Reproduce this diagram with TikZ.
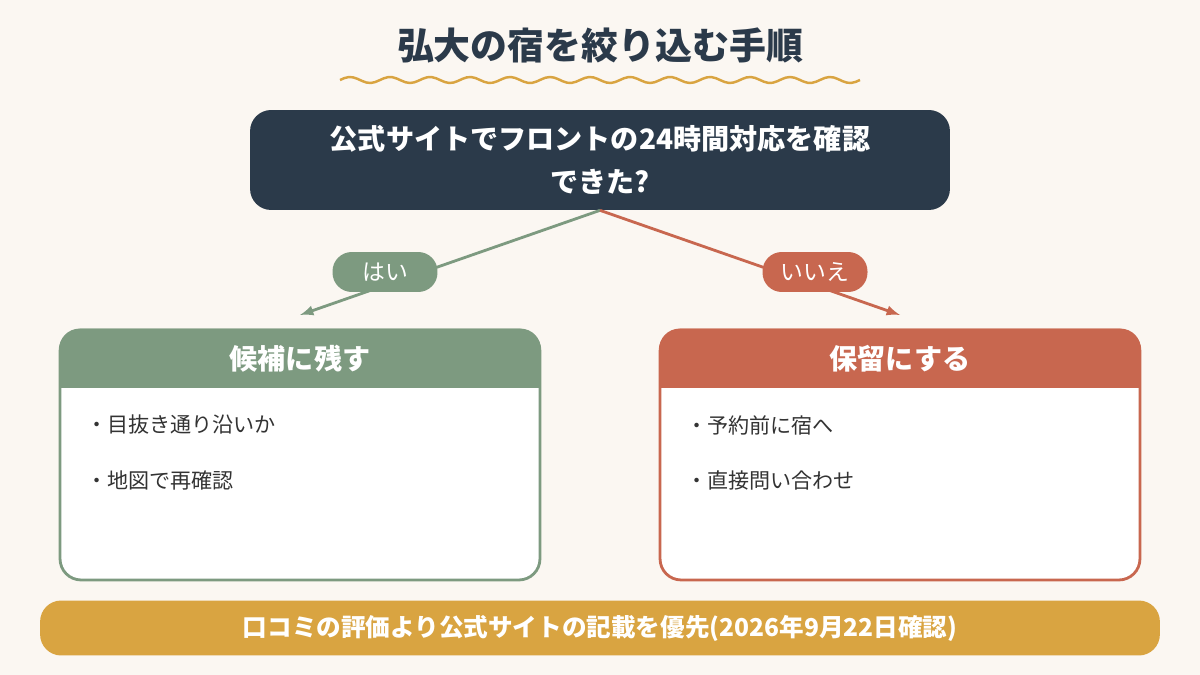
\documentclass[tikz,border=0pt]{standalone}
\usepackage{fontspec}
\setmainfont{Noto Sans CJK JP}
\usetikzlibrary{positioning}
\definecolor{bgcol}{HTML}{FBF7F2}
\definecolor{navy}{HTML}{2B3A4A}
\definecolor{sage}{HTML}{7D9A80}
\definecolor{brick}{HTML}{C8674F}
\definecolor{gold}{HTML}{D9A441}
\definecolor{ink}{HTML}{333333}
\begin{document}
\begin{tikzpicture}[x=0.02cm, y=-0.02cm,
    card/.style={rectangle, draw=#1, line width=1.6pt, fill=white, rounded corners=12, minimum width=9.6cm, minimum height=5cm},
    pill/.style={rectangle, fill=#1, rounded corners=11, text=white, font=\fontsize{13}{15}\selectfont, minimum width=2.1cm, minimum height=0.8cm},
    bullet/.style={anchor=west, text=ink, font=\fontsize{12}{14}\selectfont},
    arrow/.style={->, line width=1.6pt, >=latex}
]
    \fill[bgcol] (0,0) rectangle (1200,675);
    \useasboundingbox (0,0) rectangle (1200,675);

    % title
    \node[text=navy, font=\fontsize{21}{25}\bfseries] (title) at (600,45) {弘大の宿を絞り込む手順};
    \draw[gold, line width=1.4pt] plot[domain=340:860, samples=120] (\x, {80+3*sin(\x*9)});

    % question
    \node[rectangle, fill=navy, rounded corners=12, minimum width=14cm, minimum height=2cm, text=white,
          align=center, font=\fontsize{16}{24}\bfseries] (ask) at (600,160)
          {公式サイトでフロントの24時間対応を確認\\できた?};

    % branches
    \coordinate (yesend) at (300,315);
    \coordinate (noend) at (900,315);
    \draw[arrow, sage] (ask.south) -- (yesend);
    \draw[arrow, brick] (ask.south) -- (noend);
    \node[pill=sage] (yes) at (385,272) {はい};
    \node[pill=brick] (no) at (815,272) {いいえ};

    % cards
    \node[card=sage] (keep) at (300,455) {};
    \fill[sage] (60,388) [rounded corners=12] -- (keep.north west) -- (keep.north east) [sharp corners] -- (540,388) -- cycle;
    \node[text=white, font=\fontsize{16}{18}\bfseries] (keephead) at (300,359) {候補に残す};
    \node[bullet] (keep1) at (80,425) {・目抜き通り沿いか};
    \node[bullet] (keep2) at (80,480) {・地図で再確認};

    \node[card=brick] (hold) at (900,455) {};
    \fill[brick] (660,388) [rounded corners=12] -- (hold.north west) -- (hold.north east) [sharp corners] -- (1140,388) -- cycle;
    \node[text=white, font=\fontsize{16}{18}\bfseries] (holdhead) at (900,359) {保留にする};
    \node[bullet] (hold1) at (680,425) {・予約前に宿へ};
    \node[bullet] (hold2) at (680,480) {・直接問い合わせ};

    % note
    \node[rectangle, fill=gold, rounded corners=12, minimum width=22.4cm, minimum height=1.1cm, text=white,
          font=\fontsize{14}{16}\bfseries] (note) at (600,628)
          {口コミの評価より公式サイトの記載を優先(2026年9月22日確認)};
\end{tikzpicture}
\end{document}
